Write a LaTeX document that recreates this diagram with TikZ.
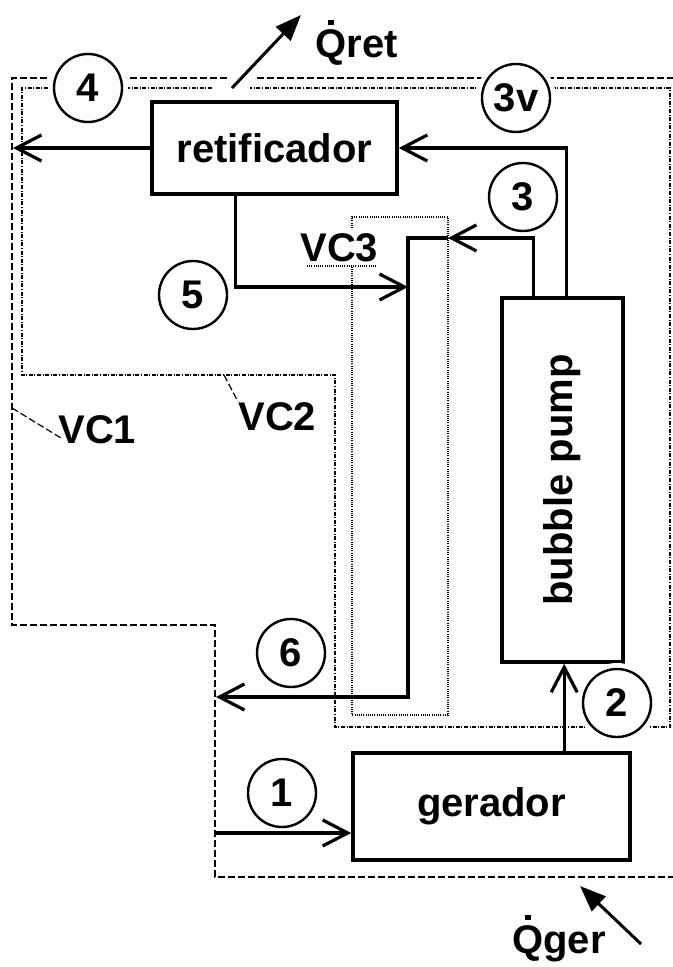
\documentclass[tikz,border=0pt]{standalone}
\usepackage{graphicx}
\usepackage{fontspec}
\setmainfont{Liberation Sans}
\usetikzlibrary{arrows.meta,calc}
\newcommand{\dotQ}{\leavevmode\setbox0\hbox{Q}\hbox to \wd0{\hss\raisebox{0.82em}{\rule{0.13em}{0.13em}}\hss}\kern-\wd0\box0}
\begin{document}
\begin{tikzpicture}[x=0.5pt,y=-0.5pt,
  font=\fontsize{20pt}{24pt}\selectfont\bfseries,
  box/.style={draw, line width=1.8pt, inner sep=0pt},
  num/.style={circle, draw, line width=1.2pt, fill=white, minimum size=34pt, inner sep=0pt, preaction={draw=white, line width=6pt}},
  flow/.style={line width=1.6pt, -{Straight Barb[length=12.5pt,width=13pt]}},
  heat/.style={line width=1.5pt, -{Triangle[length=13pt,width=10pt]}},
  vcone/.style={line width=0.7pt, dash pattern=on 3.5pt off 1.5pt},
  vctwo/.style={line width=0.7pt, dash pattern=on 2pt off 0.8pt on 0.5pt off 0.8pt},
  vcthree/.style={line width=0.7pt, dash pattern=on 0.5pt off 0.6pt},
  lbl/.style={anchor=base west, inner sep=0pt}
]
\useasboundingbox (0,0) rectangle (673,967);

% control volume VC1 (dashed)
\draw[vcone] (227,78) -- (12,78) -- (12,625) -- (215,625) -- (215,877) -- (673,877);
\draw[vcone] (257,78) -- (673,78);
% control volume VC2 (dash-dot)
\draw[vctwo] (212,88) -- (22,88) -- (22,375) -- (335,375) -- (335,727) -- (670,727) -- (670,88) -- (250,88);
% control volume VC3 (dotted)
\draw[vcthree] (352,228) -- (352,217) -- (448,217) -- (448,715) -- (352,715) -- (352,266);
\draw[vcthree] (307,266) -- (377,266);

% labels of control volumes
\node[lbl] (vc1) at (58,443) {VC1};
\node[lbl] (vc2) at (238,430) {VC2};
\node[lbl] (vc3) at (300,262) {VC3};
\draw[vcone, line width=0.6pt] (12,408) -- ($(vc1.base west)+(3,-5)$);
\draw[vcone, line width=0.6pt] (224,375) -- (vc2.north west);

% components
\node[box, minimum width=122.5pt, minimum height=46pt] (ret) at (274.5,148) {retificador};
\node[box, minimum width=60.5pt, minimum height=182pt] (bp) at (562.5,480) {\rotatebox{90}{bubble pump}};
\node[box, minimum width=138.5pt, minimum height=53.5pt] (ger) at (491.5,806.5) {gerador};

% state points
\node[num] (n4) at (88,88) {4};
\node[num] (n3v) at (516,98) {3v};
\node[num] (n3) at (523,197) {3};
\node[num] (n5) at (193,295) {5};
\node[num] (n6) at (291,653) {6};
\node[num] (n1) at (282,793) {1};
\node[num] (n2) at (617,703) {2};

% flows
\coordinate (e4) at (13,148);
\draw[flow] (ret.west) -- (e4);
\draw[flow] ($(bp.north west)+(66,0)$) |- (ret.east);
\coordinate (j3) at (448,238);
\coordinate (k3) at (408,238);
\coordinate (k6) at (408,697);
\coordinate (e6) at (216,697);
\draw[flow] ($(bp.north west)+(33,0)$) |- (j3);
\draw[flow] (j3) -- (k3) -- (k6) -- (e6);
\coordinate (e5) at (408,287);
\draw[flow] ($(ret.south west)+(85,0)$) |- (e5);
\draw[flow] ($(ger.north west)+(213,0)$) -- ($(bp.south west)+(64,0)$);
\coordinate (s1) at (215,833);
\draw[flow] (s1) -- (s1 -| ger.west);

% heat flows
\coordinate (qa) at (232,88);
\coordinate (qb) at (301,15);
\draw[heat] (qa) -- (qb);
\node[lbl] (qret) at (315,58) {\dotQ ret};
\coordinate (ga) at (641,944);
\coordinate (gb) at (580,886);
\draw[heat] (ga) -- (gb);
\node[lbl] (qger) at (512,953) {\dotQ ger};
\end{tikzpicture}
\end{document}
